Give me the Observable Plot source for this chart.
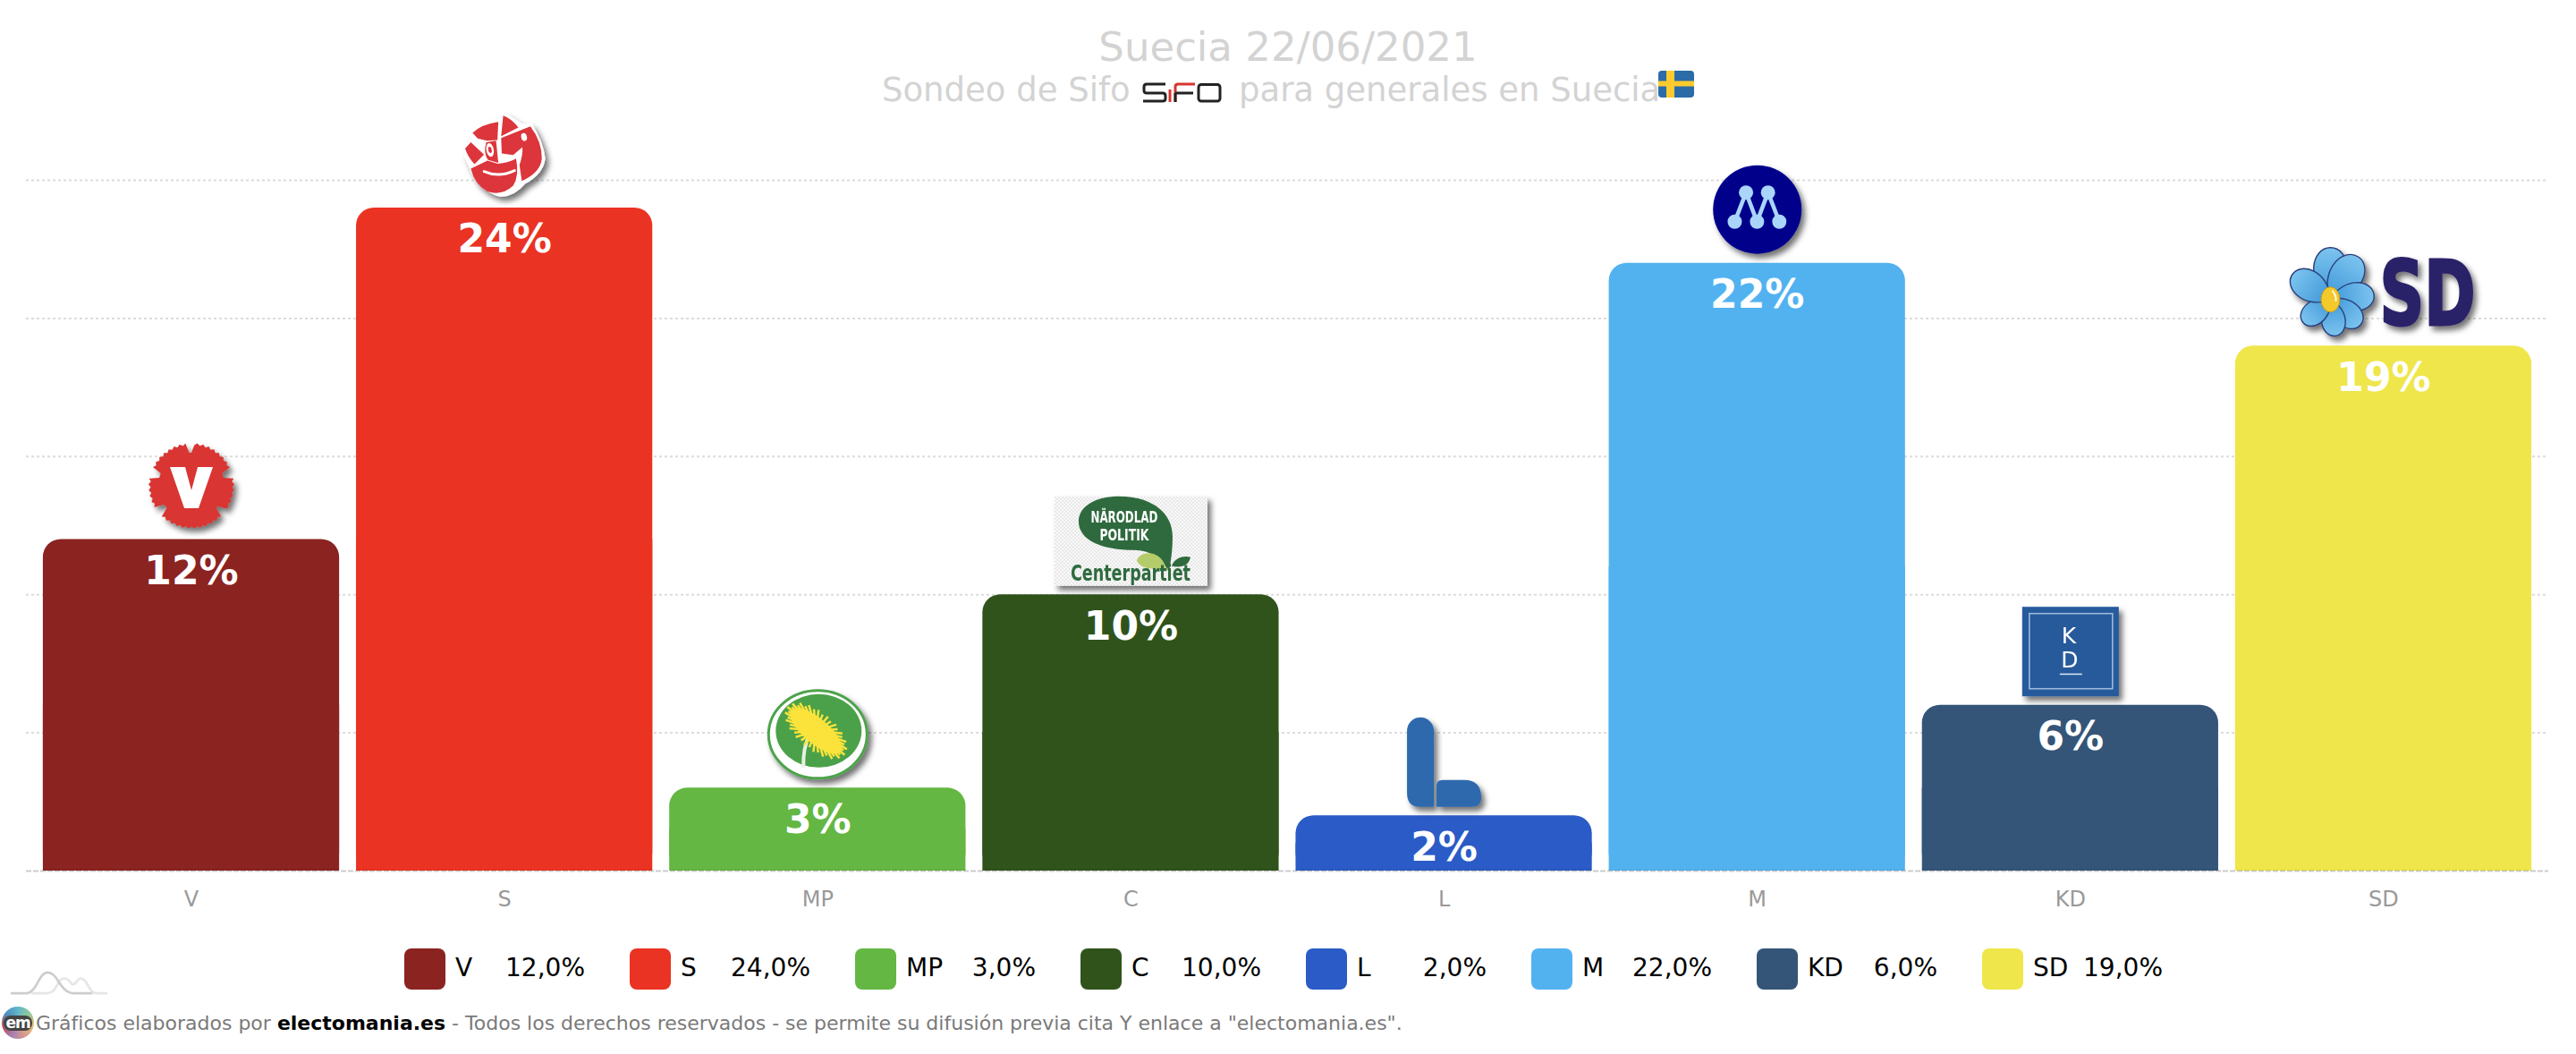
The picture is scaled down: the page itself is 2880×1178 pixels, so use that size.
<!DOCTYPE html>
<html lang="es">
<head>
<meta charset="utf-8">
<title>Suecia 22/06/2021</title>
<script src="https://cdn.jsdelivr.net/npm/d3@7"></script>
<script src="https://cdn.jsdelivr.net/npm/@observablehq/plot@0.6"></script>
<style>
  html,body{margin:0;padding:0;background:#fff;}
  body{position:relative;width:2880px;height:1178px;overflow:hidden;font-family:"DejaVu Sans",Verdana,sans-serif;}
  .abs{position:absolute;white-space:pre;}
  #title{left:0;width:2880px;top:25px;text-align:center;font-size:45px;line-height:56px;color:#d3d3d3;}
  .sub{top:78px;font-size:37px;line-height:46px;color:#d3d3d3;}
  #chart{position:absolute;left:0;top:110px;}
  .sw{position:absolute;top:1060px;width:46px;height:46px;border-radius:8px;}
  .lg{position:absolute;top:1064px;font-size:28px;line-height:36px;color:#000;white-space:pre;}
  #foot{left:40px;top:1130px;font-size:22px;line-height:28px;color:#7a7a7a;}
  #foot b{color:#000;}
</style>
</head>
<body>
<div id="title" class="abs">Suecia 22/06/2021</div>
<div class="abs sub" style="left:986px">Sondeo de Sifo</div>
<svg class="abs" style="left:1277px;top:92px" width="89" height="23" viewBox="0 0 89 23" fill="none" stroke-width="3">
  <path d="M26 2H5Q2 2 2 5V9Q2 12 5 12H23Q26 12 26 15V18Q26 21 23 21H1" stroke="#222"/>
  <path d="M31 8V22" stroke="#d8352e"/>
  <path d="M37 22V5Q37 2 40 2H59" stroke="#d8352e"/>
  <path d="M37 12H57M37 22V12" stroke="#222"/>
  <rect x="63" y="2.5" width="24" height="18.5" rx="3" stroke="#222"/>
</svg>
<div class="abs sub" style="left:1385px">para generales en Suecia</div>
<svg class="abs" style="left:1854px;top:79px" width="40" height="30" viewBox="0 0 40 30">
  <rect width="40" height="30" rx="4" fill="#2b6ca8"/>
  <rect x="9" width="9" height="30" fill="#fecb2f"/>
  <rect y="11.5" width="40" height="6" fill="#fecb2f"/>
</svg>
<div id="chart"></div>
<div id="legend"></div>
<svg class="abs" style="left:12px;top:1085px" width="108" height="27" viewBox="36 45 324 80" fill="none" stroke-width="8">
  <path d="M105 120H160C195 115 190 70 215 70C235 70 235 90 245 90C255 90 260 70 270 70C295 70 295 120 325 120H360" stroke="#e6e6e6"/>
  <path d="M36 120H90C125 115 130 50 160 50C195 50 200 120 250 120H310" stroke="#cdcdcd"/>
</svg>
<div class="abs" style="left:2px;top:1125px;width:36px;height:36px;border-radius:50%;background:conic-gradient(#5fb7c9,#8fc99a,#e0c27a,#d59a8c,#a77fb5,#c0494f,#4f8fc0,#5fb7c9);"></div>
<div class="abs" style="left:4px;top:1135px;width:32px;height:17px;border-radius:8px;background:#444;color:#fff;font:bold 17px/16px 'DejaVu Sans',sans-serif;text-align:center;letter-spacing:-1px;">em</div>
<div id="foot" class="abs">Gráficos elaborados por <b>electomania.es</b> - Todos los derechos reservados - se permite su difusión previa cita Y enlace a "electomania.es".</div>

<script>
// ---- chart data ----
const parties = ["V", "S", "MP", "C", "L", "M", "KD", "SD"];
const values  = [12, 24, 3, 10, 2, 22, 6, 19];
const colors  = ["#8b2321", "#ea3323", "#64b742", "#30531c", "#2a5bc6", "#52b2f0", "#345578", "#efe64b"];
const gridTicks = [5, 10, 15, 20, 25];

const rows = parties.map((party, i) => ({party, value: values[i]}));

// ---- party logos, drawn as small SVG images ----
const PAD = 16;
function logo(w, h, vb, inner, defs = "") {
  const s = `<svg xmlns="http://www.w3.org/2000/svg" width="${w + 2 * PAD}" height="${h + 2 * PAD}" viewBox="0 0 ${w + 2 * PAD} ${h + 2 * PAD}">
  <defs><filter id="sh" x="-30%" y="-30%" width="160%" height="160%"><feDropShadow dx="4" dy="5" stdDeviation="3" flood-color="#000" flood-opacity="0.55"/></filter>${defs}</defs>
  <g filter="url(#sh)"><svg x="${PAD}" y="${PAD}" width="${w}" height="${h}" viewBox="${vb}" overflow="visible" preserveAspectRatio="none">${inner}</svg></g></svg>`;
  return "data:image/svg+xml," + encodeURIComponent(s);
}

function carnation() {
  const notches = [-92, -18, 40, 142, 198];
  let pts = [];
  for (let a = 0; a < 360; a += 4) {
    const deg = a - 90;
    let r = a % 8 === 0 ? 48 : 45.5;
    for (const n of notches) {
      const d = Math.abs(((deg - n + 540) % 360) - 180);
      if (d < 5) r = 37;
    }
    const t = deg * Math.PI / 180;
    pts.push((50 + r * Math.cos(t)).toFixed(1) + "," + (50 + r * Math.sin(t)).toFixed(1));
  }
  return `<polygon points="${pts.join(" ")}" fill="#d93433"/><polygon points="26,29 43,29 50,55 57,29 74,29 58,75 42,75" fill="#fff"/>`;
}

function dandelion() {
  let s = `<ellipse cx="57" cy="50" rx="55" ry="49" fill="#fff" stroke="#4ea34c" stroke-width="3"/>
  <ellipse cx="58" cy="46" rx="48" ry="41" fill="#4ba148"/>
  <path d="M41 87Q40 65 48 50" fill="none" stroke="#e8f1e4" stroke-width="4"/>
  <g transform="translate(55,46) rotate(40)"><ellipse rx="36" ry="14" fill="#fbe33b"/>`;
  for (let a = 0; a < 360; a += 9) {
    const t = a * Math.PI / 180, k = a % 18 === 0 ? 1.16 : 1.06;
    s += `<line x1="0" y1="0" x2="${(36 * k * Math.cos(t)).toFixed(1)}" y2="${(18 * k * Math.sin(t)).toFixed(1)}" stroke="#fbe33b" stroke-width="2.5"/>`;
  }
  return s + `</g>`;
}

const daisyPetals = [[0, 58], [33, 57], [84, 49], [130, 44], [172, 41], [230, 40], [303, 51]];
function daisy() {
  let s = "";
  for (const [a, L] of daisyPetals) {
    s += `<path transform="translate(44,58) rotate(${a})" fill="url(#pet)" stroke="#2a3f7a" stroke-width="1.4"
      d="M0 0C${-L * .5} ${-L * .35} ${-L * .36} ${-L} 0 ${-L}C${L * .36} ${-L} ${L * .5} ${-L * .35} 0 0Z"/>`;
  }
  return s + `<ellipse cx="44" cy="58" rx="10.5" ry="14" fill="#f4c92c" stroke="#c79a1c" stroke-width="1"/>
  <path d="M46 48Q51 54 50 60" stroke="#fff" stroke-width="1.8" fill="none"/>
  <text x="99" y="86" font-family="DejaVu Sans" font-weight="bold" font-size="100" textLength="107" lengthAdjust="spacingAndGlyphs" fill="#2b2168" stroke="#2b2168" stroke-width="3">SD</text>`;
}

const logoSources = {
  V: logo(100, 100, "0 0 100 100", carnation()),
  S: logo(96, 96, "60 25 300 300", `
    <path d="M205 28L272 68L305 68Q345 130 352 190Q345 245 282 278Q240 328 190 322Q118 300 88 225L68 180Q68 150 88 130L96 90Q150 50 195 52Z" fill="#fff"/>
    <g fill="#dc343b">
      <path d="M205 40Q235 50 258 82L198 112Z"/>
      <path d="M188 62L185 125L148 128L116 120L98 100Q130 70 188 62Z"/>
      <path d="M300 78Q340 130 340 190Q335 240 270 268L262 212Q275 175 272 150L240 178L200 172L198 118Z"/>
      <path d="M72 155L92 133L138 176L105 210Q82 185 72 155Z"/>
      <path d="M92 225L150 197L186 208Q225 205 250 190Q262 250 240 285Q200 322 150 305Q105 280 92 225Z"/>
      <path d="M146 133L180 128L188 205L152 195Q135 170 146 133Z"/>
    </g>
    <ellipse cx="278" cy="115" rx="10" ry="14" fill="#fff" transform="rotate(-12 278 115)"/>
    <ellipse cx="159" cy="160" rx="13" ry="24" fill="#fff" transform="rotate(-10 159 160)"/>
    <ellipse cx="159" cy="160" rx="6" ry="11" fill="#dc343b" transform="rotate(-10 159 160)"/>
    <path d="M138 235Q190 258 245 232" fill="none" stroke="#fff" stroke-width="9" stroke-linecap="round"/>`),
  MP: logo(114, 100, "0 0 114 100", dandelion()),
  C: logo(171, 100, "0 0 171 100", `
    <defs><pattern id="chk" width="4" height="4" patternUnits="userSpaceOnUse"><rect width="4" height="4" fill="#fbfbfb"/><rect width="2" height="2" fill="#e6e6e6"/><rect x="2" y="2" width="2" height="2" fill="#e6e6e6"/></pattern></defs>
    <rect width="171" height="100" fill="url(#chk)"/>
    <path d="M72 0C108 0 132 18 132 45C132 62 130 72 128 85C122 72 110 60 88 60C55 60 27 50 27 28C27 10 48 0 72 0Z" fill="#2e6a3e"/>
    <text x="78" y="29" text-anchor="middle" font-family="Liberation Sans Narrow, DejaVu Sans Condensed, Liberation Sans" font-weight="bold" font-size="18" textLength="75" lengthAdjust="spacingAndGlyphs" fill="#fff">NÄRODLAD</text>
    <text x="78" y="49" text-anchor="middle" font-family="Liberation Sans Narrow, DejaVu Sans Condensed, Liberation Sans" font-weight="bold" font-size="18" textLength="55" lengthAdjust="spacingAndGlyphs" fill="#fff">POLITIK</text>
    <path d="M92 72C96 60 118 60 124 78C125 82 126 84 127 80C112 82 96 82 92 72Z" fill="#b5cc6a"/>
    <path d="M131 78C134 68 146 66 152 68C150 78 142 80 131 78Z" fill="#2e6a3e"/>
    <text x="85" y="94" text-anchor="middle" font-family="DejaVu Sans" font-weight="bold" font-size="24" textLength="134" lengthAdjust="spacingAndGlyphs" fill="#2e6a3e">Centerpartiet</text>`),
  L: logo(83, 100, "0 0 83 100", `
    <path d="M0 15A15 15 0 0 1 30 15V100H14Q0 100 0 84Z" fill="#2d69ae"/>
    <path d="M33 100V76Q33 70 40 70H64Q83 70 83 90Q83 100 72 100Z" fill="#2d69ae"/>`),
  M: logo(99, 99, "117 45 298 298", `
    <circle cx="266" cy="194" r="149" fill="#00008b"/>
    <path d="M190 235L228 137L265 235L302 137L340 235" fill="none" stroke="#a9d5fa" stroke-width="14"/>
    <g fill="#a9d5fa"><circle cx="228" cy="137" r="24"/><circle cx="302" cy="137" r="24"/><circle cx="190" cy="235" r="24"/><circle cx="265" cy="235" r="24"/><circle cx="340" cy="235" r="24"/></g>`),
  KD: logo(108, 100, "0 0 108 100", `
    <rect width="108" height="100" fill="#265a9b"/>
    <rect x="8" y="7.5" width="93" height="84" fill="none" stroke="#9db8db" stroke-width="1.6"/>
    <g font-family="DejaVu Sans" font-size="25" fill="#fff" text-anchor="middle"><text x="52" y="41">K</text><text x="53" y="68">D</text></g>
    <rect x="42" y="74.5" width="25" height="1.5" fill="#dfe8f4"/>`),
  SD: logo(207, 100, "0 0 207 100", daisy(),
    `<linearGradient id="pet" x1="0" y1="1" x2="0" y2="0"><stop offset="0" stop-color="#3f97d8"/><stop offset="1" stop-color="#7cc4ef"/></linearGradient>`)
};
const logoWidths = {V: 100, S: 96, MP: 114, C: 171, L: 83, M: 99, KD: 108, SD: 207};
const logoRows = rows.map(d => ({...d, src: logoSources[d.party], w: logoWidths[d.party] + 2 * PAD}));

// ---- the chart ----
const plot = Plot.plot({
  width: 2880,
  height: 930,
  marginTop: 91,
  marginBottom: 67,
  marginLeft: 29,
  marginRight: 31,
  style: {fontFamily: '"DejaVu Sans", Verdana, sans-serif', background: "transparent"},
  x: {domain: parties, padding: 0.054, round: false, label: null},
  y: {domain: [0, 25], axis: null},
  color: {domain: parties, range: colors},
  marks: [
    Plot.ruleY(gridTicks, {stroke: "#dcdcdc", strokeWidth: 2, strokeDasharray: "3 3"}),
    Plot.barY(rows, {x: "party", y: "value", fill: "party", rx: 20}),
    Plot.barY(rows, {x: "party", y1: 0, y2: d => d.value / 2, fill: "party"}),
    Plot.ruleY([0], {stroke: "#000", strokeOpacity: 0.2, strokeWidth: 2, strokeDasharray: "6 2"}),
    Plot.axisX({tickSize: 0, tickPadding: 22, fontSize: 24, color: "#999", label: null}),
    Plot.text(rows, {x: "party", y: "value", text: d => d.value + "%", dy: 36, fill: "#fff", fontSize: 44, fontWeight: "bold", textAnchor: "middle", lineAnchor: "middle"}),
    Plot.image(logoRows, {x: "party", y: "value", src: "src", width: "w", height: 100 + 2 * PAD, dy: -60})
  ]
});
document.getElementById("chart").append(plot);

// ---- legend ----
const legend = document.getElementById("legend");
parties.forEach((p, i) => {
  const left = 452 + i * 252;
  const label = values[i].toFixed(1).replace(".", ",") + "%";
  legend.insertAdjacentHTML("beforeend",
    `<div class="sw" style="left:${left}px;background:${colors[i]}"></div>` +
    `<div class="lg" style="left:${left + 57}px">${p}</div>` +
    `<div class="lg" style="left:${left + 60}px;width:142px;text-align:right">${label}</div>`);
});
</script>
</body>
</html>
